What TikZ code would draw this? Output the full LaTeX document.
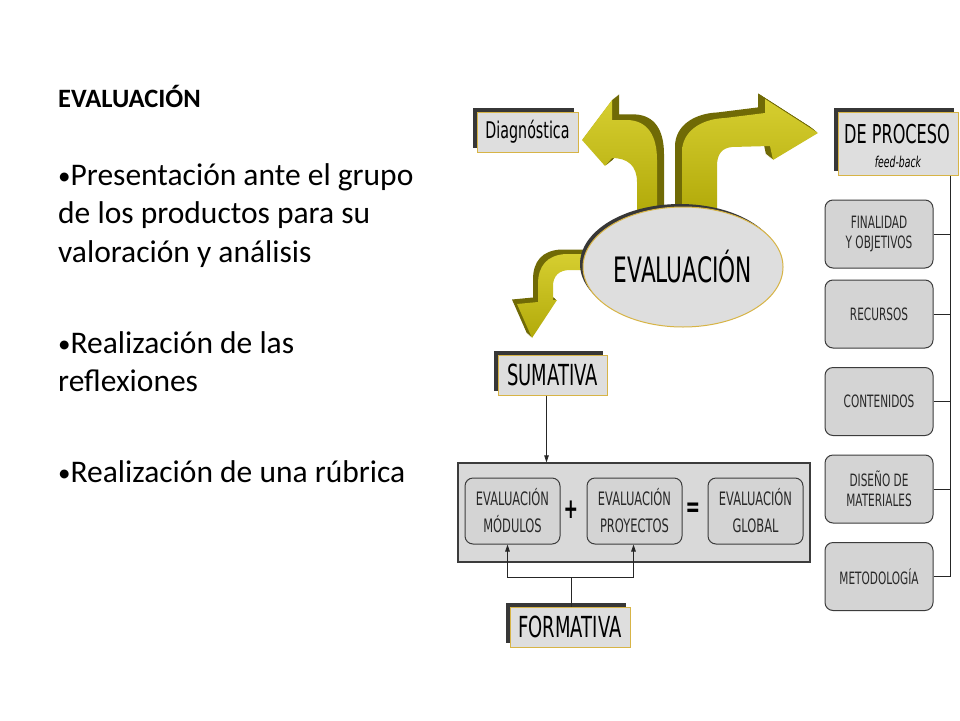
\documentclass[tikz,border=0pt]{standalone}
\usepackage{fontspec}
\setmainfont{Carlito}
\newfontfamily\dfont[FakeStretch=0.62]{DejaVu Sans}
\usetikzlibrary{shapes.geometric,shadows,arrows.meta}
\definecolor{boxgray}{RGB}{212,212,212}
\definecolor{biggray}{RGB}{217,217,217}
\definecolor{lblgray}{RGB}{222,222,222}
\definecolor{shadowdark}{RGB}{55,55,55}
\definecolor{goldline}{RGB}{215,180,70}
\definecolor{edgegray}{RGB}{60,60,60}
\definecolor{arrfront}{RGB}{178,170,10}
\definecolor{arrlight}{RGB}{214,206,48}
\definecolor{arrdark}{RGB}{112,106,6}
\definecolor{txtgray}{RGB}{40,40,40}
\newcommand\bdot{{\fontsize{25}{25}\selectfont\raisebox{1pt}{•}}}
\tikzset{
  lbl/.style={rectangle, fill=lblgray, draw=goldline, line width=1pt, inner sep=0pt,
    general shadow={fill=shadowdark, shadow xshift=-4pt, shadow yshift=4pt}},
  rbox/.style={rectangle, rounded corners=8pt, fill=boxgray, draw=edgegray, line width=1pt,
    minimum width=108pt, minimum height=68pt, inner sep=0pt, align=center, text=txtgray,
    font=\dfont\fontsize{17}{20}\selectfont},
  ibox/.style={rectangle, rounded corners=8pt, fill=boxgray, draw=edgegray, line width=1pt,
    minimum width=95pt, minimum height=66pt, inner sep=0pt, align=center, text=txtgray,
    font=\dfont\fontsize{18.5}{27}\selectfont},
  conn/.style={draw=black!85, line width=0.8pt},
  tipend/.style={-{Triangle[length=7pt,width=4.5pt]}},
  bullet/.style={anchor=base west, inner sep=0pt, font=\fontsize{31.5}{38}\selectfont},
  pics/leftarr/.style={code={\path[pic actions] (637,212) -- (637,182) .. controls (637,166) and (628,158) .. (612,158) -- (605,166) -- (582,140) -- (612,100) -- (612,120) -- (628,120) .. controls (648,121) and (657,136) .. (657,160) -- (657,212) -- cycle;}},
  pics/rightarr/.style={code={\path[pic actions] (682,212) -- (682,152) .. controls (682,132) and (700,119) .. (725,118) -- (765,113) -- (765,99) -- (818,133) -- (773,160) -- (770,146) -- (732,147) .. controls (722,148) and (717,154) .. (717,166) -- (717,212) -- cycle;}},
  pics/lowarr/.style={code={\path[pic actions] (590,254) -- (566,254) .. controls (547,255) and (538,266) .. (538,284) -- (538,302) -- (517,304) -- (532,338) -- (557,300) -- (553,300) -- (553,286) .. controls (553,276) and (559,270) .. (570,270) -- (590,270) -- cycle;}},
}
\begin{document}
\begin{tikzpicture}[x=1pt,y=-1pt]
\useasboundingbox[fill=white] (0,0) rectangle (960,720);

% left text
\node[anchor=base west, inner sep=0pt, font=\bfseries\fontsize{26.5}{30}\selectfont] (title) at (58,107) {EVALUACIÓN};
\node[bullet] (b1a) at (58,185) {\bdot Presentación ante el grupo};
\node[bullet] (b1b) at (58,223.5) {de los productos para su};
\node[bullet] (b1c) at (58,262) {valoración y análisis};
\node[bullet] (b2a) at (58,353) {\bdot Realización de las};
\node[bullet] (b2b) at (58,391.5) {reflexiones};
\node[bullet] (b3a) at (58,482) {\bdot Realización de una rúbrica};

% 3D arrows
\foreach \k in {7,6,...,1} {
  \pic[fill=arrdark] at ({\k},{-0.8*\k}) {leftarr};
  \pic[fill=arrdark] at ({-\k},{-0.8*\k}) {rightarr};
}
\foreach \k in {5,4,...,1} {
  \pic[fill=arrdark] at ({-\k},{-0.9*\k}) {lowarr};
}
\pic[top color=arrlight, bottom color=arrfront] at (0,0) {leftarr};
\pic[top color=arrlight, bottom color=arrfront] at (0,0) {rightarr};
\pic[top color=arrlight, bottom color=arrfront] at (0,0) {lowarr};

% central ellipse
\node[ellipse, minimum width=200pt, minimum height=120pt, inner sep=0pt, fill=lblgray, draw=goldline, line width=1pt,
  general shadow={fill=shadowdark, shadow xshift=-3pt, shadow yshift=3pt},
  font=\dfont\fontsize{35}{40}\selectfont] (ev) at (683,267) {EVALUACIÓN};

% label boxes
\node[lbl, minimum width=101pt, minimum height=40pt, font=\dfont\fontsize{23}{26}\selectfont] (diag) at (527.5,132) {Diagnóstica};
\node[lbl, minimum width=120pt, minimum height=63pt] (dp) at (898,143.5) {};
\node[anchor=base, inner sep=0pt, font=\dfont\fontsize{26}{30}\selectfont] (dpt) at (897,143) {DE PROCESO};
\node[anchor=base, inner sep=0pt, font=\dfont\itshape\fontsize{15}{18}\selectfont] (fb) at (898,167) {feed-back};
\node[lbl, minimum width=109pt, minimum height=40pt, font=\dfont\fontsize{29}{32}\selectfont] (sum) at (552.5,375) {SUMATIVA};
\node[lbl, minimum width=120pt, minimum height=40pt, font=\dfont\fontsize{29}{32}\selectfont] (form) at (570,627) {FORMATIVA};

% right column
\node[rbox] (fin) at (879,234) {FINALIDAD\\Y OBJETIVOS};
\node[rbox] (rec) at (879,314) {RECURSOS};
\node[rbox] (con) at (879,401.5) {CONTENIDOS};
\node[rbox] (dis) at (879,489) {DISEÑO DE\\MATERIALES};
\node[rbox] (met) at (879,576.5) {METODOLOGÍA};
\coordinate (trunk) at ([xshift=-8pt]dp.south east);
\draw[conn] (trunk) -- (trunk |- met.east);
\foreach \b in {fin,rec,con,dis,met} \draw[conn] (\b.east) -- (\b.east -| trunk);

% summative block
\node[rectangle, fill=biggray, draw=edgegray, line width=1.2pt, minimum width=352pt, minimum height=99pt, inner sep=0pt] (big) at (634,512.5) {};
\node[ibox] (mod) at (512.5,511) {EVALUACIÓN\\MÓDULOS};
\node[ibox] (proj) at (634.5,511) {EVALUACIÓN\\PROYECTOS};
\node[ibox] (glob) at (755.5,511) {EVALUACIÓN\\GLOBAL};
\node[inner sep=0pt, font=\dfont\bfseries\fontsize{28}{28}\selectfont] (plus) at (571,510) {+};
\node[inner sep=0pt, font=\dfont\bfseries\fontsize{28}{28}\selectfont] (eq) at (693,510) {=};

\draw[conn, tipend] ([xshift=-6pt]sum.south) -- ([xshift=-6pt]sum.south |- big.north);
\coordinate (fj) at (571,577);
\draw[conn] (form.north -| fj) -- (fj);
\draw[conn, tipend] (fj) -| ([xshift=-5pt]mod.south);
\draw[conn, tipend] (fj) -| ([xshift=-1pt]proj.south);
\end{tikzpicture}
\end{document}
